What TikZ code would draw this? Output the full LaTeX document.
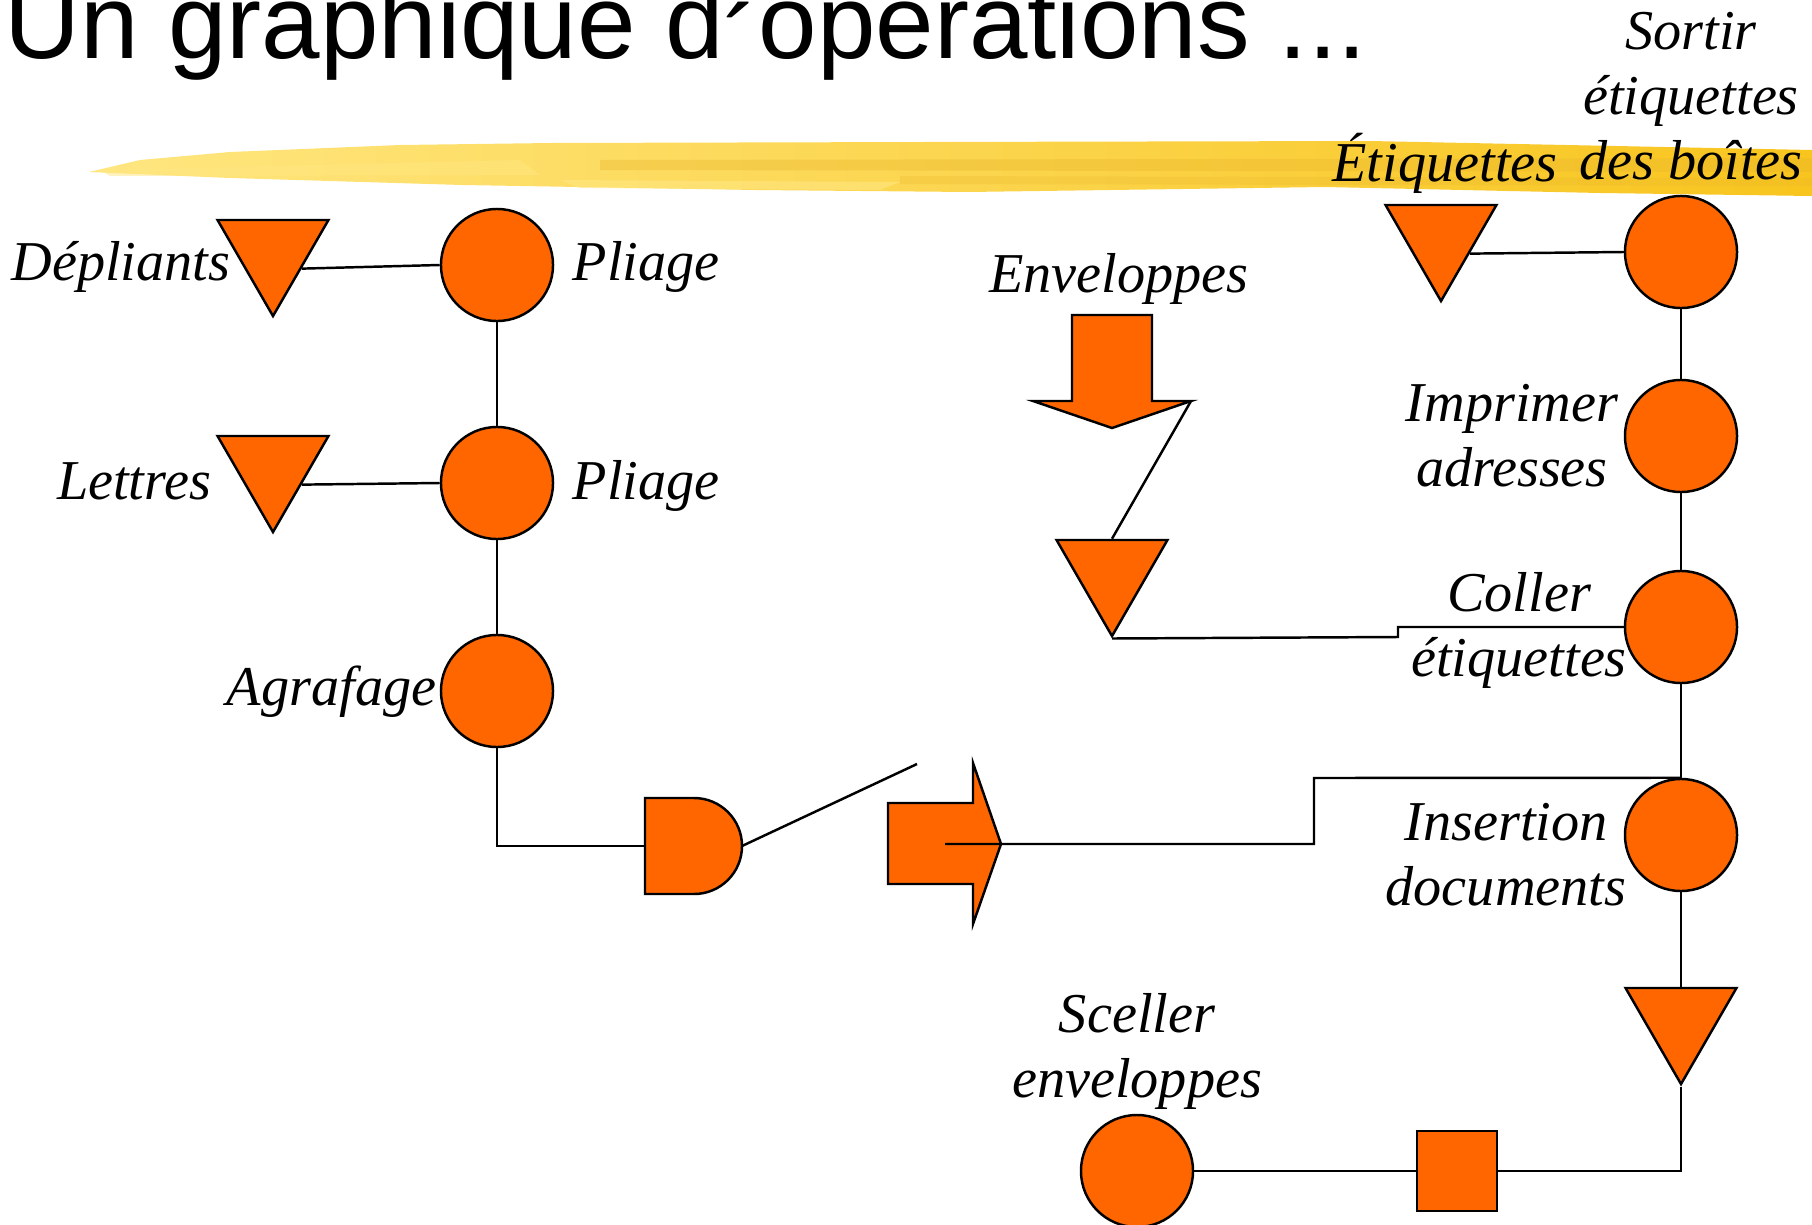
\documentclass[tikz,border=0pt]{standalone}
\usepackage{fontspec}
\setmainfont{Liberation Serif}
\newfontfamily\titlefont{Liberation Sans}
\usetikzlibrary{shapes.geometric,positioning}
\definecolor{ora}{HTML}{FF6600}
\definecolor{brushA}{HTML}{FFE680}
\definecolor{brushB}{HTML}{F8C51E}
\definecolor{brushC}{HTML}{E9B52C}
\tikzset{
  op/.style={circle,draw,fill=ora,line width=.7pt,minimum size=1.12cm,inner sep=0pt},
  stock/.style={regular polygon,regular polygon sides=3,shape border rotate=180,
    draw,fill=ora,line width=.7pt,minimum size=1.28cm,inner sep=0pt},
  ctrl/.style={rectangle,draw,fill=ora,line width=.7pt,minimum size=.8cm,inner sep=0pt},
  lbl/.style={font=\fontsize{16}{18.4}\selectfont\itshape,inner sep=0pt,align=center},
  link/.style={line width=.7pt}
}
\begin{document}
\begin{tikzpicture}[x=0.01cm,y=-0.01cm]
  \useasboundingbox (0,0) rectangle (1812,1224);
  % brush stroke under the title
  \shade[left color=brushA,right color=brushB]
    (89,172) -- (140,160) -- (230,152) -- (400,145) -- (551,143) -- (923,142)
    -- (1370,141) -- (1812,150) -- (1812,196) -- (1600,193) -- (1325,187)
    -- (968,192) -- (756,190) -- (462,185) -- (230,178) -- cycle;
  \fill[brushC,opacity=.35] (600,160) -- (1812,158) -- (1812,172) -- (600,170) -- cycle;
  \fill[brushC,opacity=.25] (900,176) -- (1812,178) -- (1812,186) -- (900,184) -- cycle;
  \fill[brushA,opacity=.5] (100,170) -- (520,160) -- (540,175) -- (110,176) -- cycle;
  \fill[brushA,opacity=.6] (560,180) -- (900,182) -- (880,190) -- (580,188) -- cycle;
  \node[anchor=base west,inner sep=0pt,font=\titlefont\fontsize{29.9}{36}\selectfont]
    (title) at (4,58) {Un graphique d\raisebox{-.2em}{´}opérations ...};

  % left column
  \foreach \n/\y in {p1/265,p2/483,ag/691}
    \node[op] (\n) at (497,\y) {};
  \node[stock] (depl) at (273,252) {};
  \node[stock] (lett) at (273,468) {};
  \draw[link] (depl.side 1) -- (p1.west);
  \draw[link] (lett.side 1) -- (p2.west);
  \draw[link] (p1) -- (p2);
  \draw[link] (p2) -- (ag);
  \node[lbl,anchor=base east] (ldepl) at (231,280) {Dépliants};
  \node[lbl,anchor=base west] (lp1) at (572,280) {Pliage};
  \node[lbl,anchor=base east] (llett) at (212,499) {Lettres};
  \node[lbl,anchor=base west] (lp2) at (572,499) {Pliage};
  \node[lbl,anchor=base east] (lag) at (437,705) {Agrafage};

  % assembly (D) and transport arrow
  \draw[link,fill=ora] (645,798) -- (694,798) arc[start angle=-90,end angle=90,radius=48]
    -- (645,894) -- cycle;
  \coordinate (dw) at (645,846);
  \coordinate (de) at (742,846);
  \coordinate (loose) at (917,764);
  \draw[link] (ag.south) |- (dw);
  \draw[link] (de) -- (loose);
  \draw[link,fill=ora] (888,803) -- (973,803) -- (973,763) -- (1001,844) -- (973,924)
    -- (973,884) -- (888,884) -- cycle;
  \coordinate (tin) at (945,844);

  % envelopes
  \node[lbl,anchor=base] (lenv) at (1119,292) {Enveloppes};
  \draw[link,fill=ora] (1072,315) -- (1152,315) -- (1152,401) -- (1191,401) -- (1112,428)
    -- (1033,401) -- (1072,401) -- cycle;
  \coordinate (envh) at (1191,401);
  \node[stock] (env) at (1112,572) {};
  \draw[link] (envh) -- (env.side 2);

  % right column
  \foreach \n/\y in {so/252,im/436,co/627,in/835}
    \node[op] (\n) at (1681,\y) {};
  \node[stock] (etq) at (1441,237) {};
  \draw[link] (etq.side 1) -- (so.west);
  \draw[link] (so) -- (im);
  \draw[link] (im) -- (co);
  \draw[link] (co) -- (in);
  \draw[link] (env.corner 1) -- (1398,637) -- (1398,627) -- (co.west);
  \draw[link] (tin) -- (1314,844) -- (1314,778) -- (in.north);
  \node[lbl,anchor=base] (letq) at (1445,181) {Étiquettes};
  \node[lbl,anchor=north] (lso) at (1691,12) {Sortir\\étiquettes\\des boîtes};
  \node[lbl,anchor=north] (lim) at (1512,384) {Imprimer\\adresses};
  \node[lbl,anchor=north] (lco) at (1519,572) {Coller\\étiquettes};
  \node[lbl,anchor=north] (lin) at (1506,803) {Insertion\\documents};

  % bottom
  \node[stock] (out) at (1681,1020) {};
  \node[ctrl] (insp) at (1457,1171) {};
  \node[op] (sc) at (1137,1171) {};
  \draw[link] (in.south) -- (out.side 2);
  \draw[link] (out.corner 1) |- (insp.east);
  \draw[link] (insp.west) -- (sc.east);
  \node[lbl,anchor=north] (lsc) at (1137,993) {Sceller\\enveloppes};
\end{tikzpicture}
\end{document}
